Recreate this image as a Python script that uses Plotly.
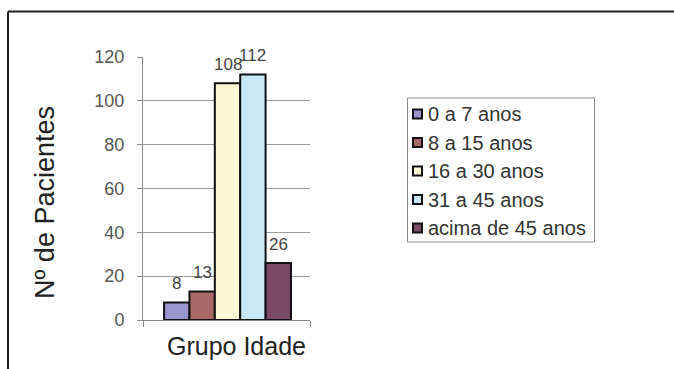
import plotly.graph_objects as go

# Patient counts per age group
groups = ["0 a 7 anos", "8 a 15 anos", "16 a 30 anos", "31 a 45 anos", "acima de 45 anos"]
patients = [8, 13, 108, 112, 26]
colors = ["#9a94cf", "#a86868", "#fdf8d4", "#c8e8f6", "#7a4a62"]
y_ticks = [0, 20, 40, 60, 80, 100, 120]

W, H = 674, 369
M_L, M_R, M_T, M_B = 143, 364, 57, 49
PW = W - M_L - M_R
PH = H - M_T - M_B
X_RANGE = [-1.33, 5.25]

FONT = "Arial, Liberation Sans, Helvetica, sans-serif"


def px_x(px):
    """Convert a page x pixel to paper coordinates."""
    return (px - M_L) / PW


def px_y(py):
    """Convert a page y pixel to paper coordinates."""
    return (H - M_B - py) / PH


x_pos = list(range(len(groups)))

fig = go.Figure(
    go.Bar(
        x=x_pos,
        y=patients,
        width=1.0,
        marker=dict(color=colors, line=dict(color="#111111", width=2)),
        showlegend=False,
        hoverinfo="skip",
    )
)

# Value labels above each bar
for xi, v in zip(x_pos, patients):
    fig.add_annotation(
        x=xi, y=v, text=str(v), showarrow=False, yshift=19,
        xanchor="center", yanchor="middle",
        font=dict(family=FONT, size=17, color="#444444"),
    )

# Category axis caption
fig.add_annotation(
    xref="paper", yref="paper", x=px_x(236), y=px_y(346),
    xanchor="center", yanchor="middle",
    text="Grupo Idade", showarrow=False,
    font=dict(family=FONT, size=25, color="#222222"),
)

# Value axis caption
fig.add_annotation(
    xref="paper", yref="paper", x=px_x(45), y=px_y(203),
    xanchor="center", yanchor="middle", textangle=-90,
    text="Nº de Pacientes", showarrow=False,
    font=dict(family=FONT, size=27, color="#222222"),
)

# Legend box
shapes = [
    dict(type="rect", xref="paper", yref="paper",
         x0=px_x(407.5), x1=px_x(594.5), y0=px_y(242), y1=px_y(98),
         line=dict(color="#8a8a8a", width=1), fillcolor="white"),
    # Frame around the figure (top and left edges)
    dict(type="line", xref="paper", yref="paper",
         x0=px_x(8), x1=px_x(680), y0=px_y(11.5), y1=px_y(11.5),
         line=dict(color="#222222", width=2)),
    dict(type="line", xref="paper", yref="paper",
         x0=px_x(8), x1=px_x(8), y0=px_y(11.5), y1=px_y(375),
         line=dict(color="#222222", width=2)),
]

item_y0, item_step = 114, 28.5
for i, (name, c) in enumerate(zip(groups, colors)):
    cy = item_y0 + i * item_step
    shapes.append(dict(
        type="rect", xref="paper", yref="paper",
        x0=px_x(413), x1=px_x(422), y0=px_y(cy + 4.5), y1=px_y(cy - 4.5),
        line=dict(color="#111111", width=2), fillcolor=c,
    ))
    fig.add_annotation(
        xref="paper", yref="paper", x=px_x(426), y=px_y(cy),
        xanchor="left", yanchor="middle", text=name, showarrow=False,
        font=dict(family=FONT, size=20, color="#333333"),
    )

fig.update_layout(
    width=W, height=H,
    margin=dict(l=M_L, r=M_R, t=M_T, b=M_B, pad=0),
    paper_bgcolor="white", plot_bgcolor="white",
    shapes=shapes,
    font=dict(family=FONT),
    xaxis=dict(
        range=X_RANGE, showgrid=False, zeroline=False,
        showline=True, linecolor="#888888", linewidth=1,
        tickvals=X_RANGE, ticks="outside", ticklen=6, tickcolor="#888888",
        showticklabels=False, fixedrange=True,
    ),
    yaxis=dict(
        range=[0, 120], tickvals=y_ticks,
        showgrid=True, gridcolor="#9a9a9a", gridwidth=1, zeroline=False,
        showline=True, linecolor="#888888", linewidth=1,
        ticks="outside", ticklen=5, tickcolor="#888888",
        ticklabelstandoff=9,
        tickfont=dict(family=FONT, size=18, color="#555555"),
    ),
)

fig.write_html("out.html")
